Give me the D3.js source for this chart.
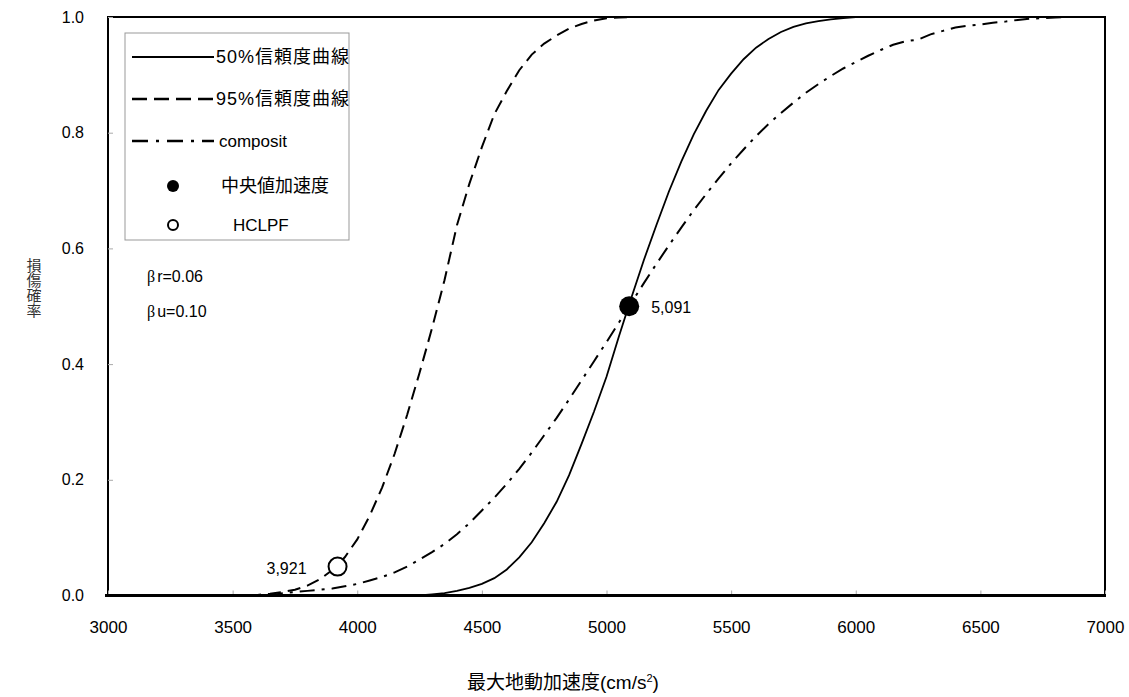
<!DOCTYPE html>
<html>
<head>
<meta charset="utf-8">
<script src="https://cdn.jsdelivr.net/npm/d3@7"></script>
<style>
  body { margin: 0; background: #fff; }
  text { font-family: "Liberation Sans", Arial, "Noto Sans CJK JP", sans-serif; }
</style>
</head>
<body>
<div id="chart"></div>
<script>
// 横軸 : 最大地動加速度 (cm/s2), 50 刻み
var accel = [3000,3050,3100,3150,3200,3250,3300,3350,3400,3450,
             3500,3550,3600,3650,3700,3750,3800,3850,3900,3950,
             4000,4050,4100,4150,4200,4250,4300,4350,4400,4450,
             4500,4550,4600,4650,4700,4750,4800,4850,4900,4950,
             5000,5050,5100,5150,5200,5250,5300,5350,5400,5450,
             5500,5550,5600,5650,5700,5750,5800,5850,5900,5950,
             6000,6050,6100,6150,6200,6250,6300,6350,6400,6450,
             6500,6550,6600,6650,6700,6750,6800,6850,6900,6950,7000];

// 50%信頼度曲線
var curve50 = [0,0,0,0,0,0,0,0,0,0,
               0,0,0,0,0,0,0,0,0,0,
               0,0,0,0,0,0,0.002,0.004,0.008,0.013,
               0.020,0.030,0.045,0.066,0.092,0.125,0.162,0.208,0.262,0.318,
               0.378,0.448,0.515,0.580,0.640,0.698,0.750,0.797,0.838,0.874,
               0.902,0.927,0.947,0.962,0.974,0.983,0.989,0.993,0.996,0.998,
               1,1,1,1,1,1,1,1,1,1,
               1,1,1,1,1,1,1,1,1,1,1];

// 95%信頼度曲線
var curve95 = [0,0,0,0,0,0,0,0,0,0,
               0,0,0.001,0.003,0.006,0.010,0.017,0.028,0.044,0.066,
               0.097,0.138,0.187,0.245,0.312,0.385,0.462,0.545,0.640,0.712,
               0.775,0.832,0.872,0.908,0.935,0.954,0.968,0.980,0.988,0.994,
               0.998,0.999,1,1,1,1,1,1,1,1,
               1,1,1,1,1,1,1,1,1,1,
               1,1,1,1,1,1,1,1,1,1,
               1,1,1,1,1,1,1,1,1,1,1];

// composit
var curveComp = [0,0,0,0,0,0,0,0,0,0,
                 0,0,0,0,0.004,0.006,0.008,0.010,0.012,0.016,
                 0.020,0.026,0.032,0.040,0.050,0.062,0.075,0.089,0.106,0.125,
                 0.147,0.169,0.193,0.219,0.247,0.277,0.307,0.339,0.372,0.405,
                 0.438,0.472,0.506,0.540,0.573,0.605,0.636,0.666,0.694,0.721,
                 0.747,0.771,0.794,0.815,0.834,0.852,0.869,0.884,0.898,0.911,
                 0.922,0.933,0.943,0.952,0.958,0.961,0.970,0.976,0.982,0.985,
                 0.987,0.990,0.992,0.995,0.997,0.998,0.999,1,1,1,1];

// 中央値加速度 と HCLPF
var medianPt = [5091, 0.5];
var hclpfPt = [3921, 0.05];

var xTicks = [3000,3500,4000,4500,5000,5500,6000,6500,7000];
var yTicks = [0,0.2,0.4,0.6,0.8,1.0];
var legendLabels = ["50%信頼度曲線","95%信頼度曲線","composit","中央値加速度","HCLPF"];

var width = 1129, height = 697;
var plotLeft = 108, plotRight = 1105, plotTop = 17, plotBottom = 595.5;

var svg = d3.select("#chart").append("svg")
    .attr("width", width)
    .attr("height", height);

var x = d3.scaleLinear().domain([3000, 7000]).range([plotLeft, plotRight]);
var y = d3.scaleLinear().domain([0, 1]).range([plotBottom, plotTop]);

// 枠
svg.append("rect")
    .attr("x", plotLeft).attr("y", plotTop)
    .attr("width", plotRight - plotLeft).attr("height", plotBottom - plotTop)
    .attr("fill", "none").attr("stroke", "#000").attr("stroke-width", 2);

// 軸
var yAxis = d3.axisLeft(y).tickValues(yTicks).tickSize(-5).tickPadding(24)
    .tickFormat(d3.format(".1f"));
var gy = svg.append("g").attr("transform", "translate(" + plotLeft + ",0)").call(yAxis);
gy.select(".domain").remove();
gy.selectAll("line").attr("stroke", "#aaa");
gy.selectAll("text").attr("font-size", 16).attr("fill", "#000")
    .attr("font-family", "Liberation Sans, Arial, sans-serif");

var xAxis = d3.axisBottom(x).tickValues(xTicks).tickSize(-5).tickPadding(25)
    .tickFormat(d3.format("d"));
var gx = svg.append("g").attr("transform", "translate(0," + plotBottom + ")").call(xAxis);
gx.select(".domain").remove();
gx.selectAll("line").attr("stroke", "#aaa");
gx.selectAll("text").attr("font-size", 17).attr("fill", "#000")
    .attr("font-family", "Liberation Sans, Arial, sans-serif");

svg.append("line")
    .attr("x1", plotLeft - 3).attr("x2", plotRight + 1)
    .attr("y1", plotBottom).attr("y2", plotBottom)
    .attr("stroke", "#000").attr("stroke-width", 3);

// 軸タイトル
svg.append("text")
    .attr("x", 33).attr("y", 288)
    .attr("text-anchor", "middle")
    .style("writing-mode", "vertical-rl")
    .style("text-orientation", "upright")
    .attr("font-size", 15)
    .attr("fill", "#333")
    .text("損傷確率");

var xt = svg.append("text")
    .attr("x", 563).attr("y", 689)
    .attr("text-anchor", "middle")
    .attr("font-size", 19)
    .attr("font-family", "Liberation Serif, Noto Sans CJK JP, serif");
xt.append("tspan").text("最大地動加速度(cm/s");
xt.append("tspan").attr("font-size", 11).attr("dy", -7).text("2");
xt.append("tspan").attr("dy", 7).text(")");

// 曲線
var styles = [
    { data: curve50, dash: null, legendDash: null, w: 1.8 },
    { data: curve95, dash: "13,7", legendDash: "15,7", w: 2 },
    { data: curveComp, dash: "15,7,3,7", legendDash: "16,8,3,8", w: 2 }
];

var line = d3.line()
    .x(function (d) { return x(d[0]); })
    .y(function (d) { return y(d[1]); });

styles.forEach(function (s) {
    var pts = accel.map(function (a, i) { return [a, s.data[i]]; });
    svg.append("path")
        .datum(pts)
        .attr("d", line)
        .attr("fill", "none")
        .attr("stroke", "#000")
        .attr("stroke-width", s.w)
        .attr("stroke-dasharray", s.dash);
});

// 点
svg.append("circle")
    .attr("cx", x(medianPt[0])).attr("cy", y(medianPt[1]))
    .attr("r", 10).attr("fill", "#000");
svg.append("circle")
    .attr("cx", x(hclpfPt[0])).attr("cy", y(hclpfPt[1]))
    .attr("r", 9).attr("fill", "#fff").attr("stroke", "#000").attr("stroke-width", 2);

svg.append("text")
    .attr("x", x(medianPt[0]) + 22).attr("y", y(medianPt[1]) + 7)
    .attr("font-size", 16)
    .text(d3.format(",")(medianPt[0]));
svg.append("text")
    .attr("x", x(hclpfPt[0]) - 31).attr("y", y(hclpfPt[1]) + 7)
    .attr("text-anchor", "end")
    .attr("font-size", 16)
    .text(d3.format(",")(hclpfPt[0]));

// β
var betaText = [["r=0.06", 282], ["u=0.10", 317]];
betaText.forEach(function (b) {
    var t = svg.append("text").attr("x", 147).attr("y", b[1]).attr("font-size", 16);
    t.append("tspan").attr("font-family", "Liberation Serif, serif").text("β");
    t.append("tspan").attr("dx", 2).text(b[0]);
});

// 凡例
var lg = svg.append("g");
lg.append("rect")
    .attr("x", 125).attr("y", 33)
    .attr("width", 224).attr("height", 207)
    .attr("fill", "#fff").attr("stroke", "#999").attr("stroke-width", 1);

var rowY = function (i) { return 57 + i * 42; };

styles.forEach(function (s, i) {
    lg.append("line")
        .attr("x1", 132).attr("x2", 214)
        .attr("y1", rowY(i)).attr("y2", rowY(i))
        .attr("stroke", "#000")
        .attr("stroke-width", s.w + 0.3)
        .attr("stroke-dasharray", s.legendDash);
});
lg.append("circle").attr("cx", 173).attr("cy", rowY(3) + 3).attr("r", 6).attr("fill", "#000");
lg.append("circle").attr("cx", 173).attr("cy", rowY(4)).attr("r", 5)
    .attr("fill", "#fff").attr("stroke", "#000").attr("stroke-width", 2);

var textX = [216, 216, 219, 221, 233];
var textSize = [18, 18, 17, 18, 17];
legendLabels.forEach(function (lab, i) {
    lg.append("text")
        .attr("x", textX[i])
        .attr("y", rowY(i) + (i === 3 ? 3 : 0))
        .attr("dy", "0.35em")
        .attr("font-size", textSize[i])
        .attr("letter-spacing", i < 2 ? 1 : 0)
        .text(lab);
});
</script>
</body>
</html>
